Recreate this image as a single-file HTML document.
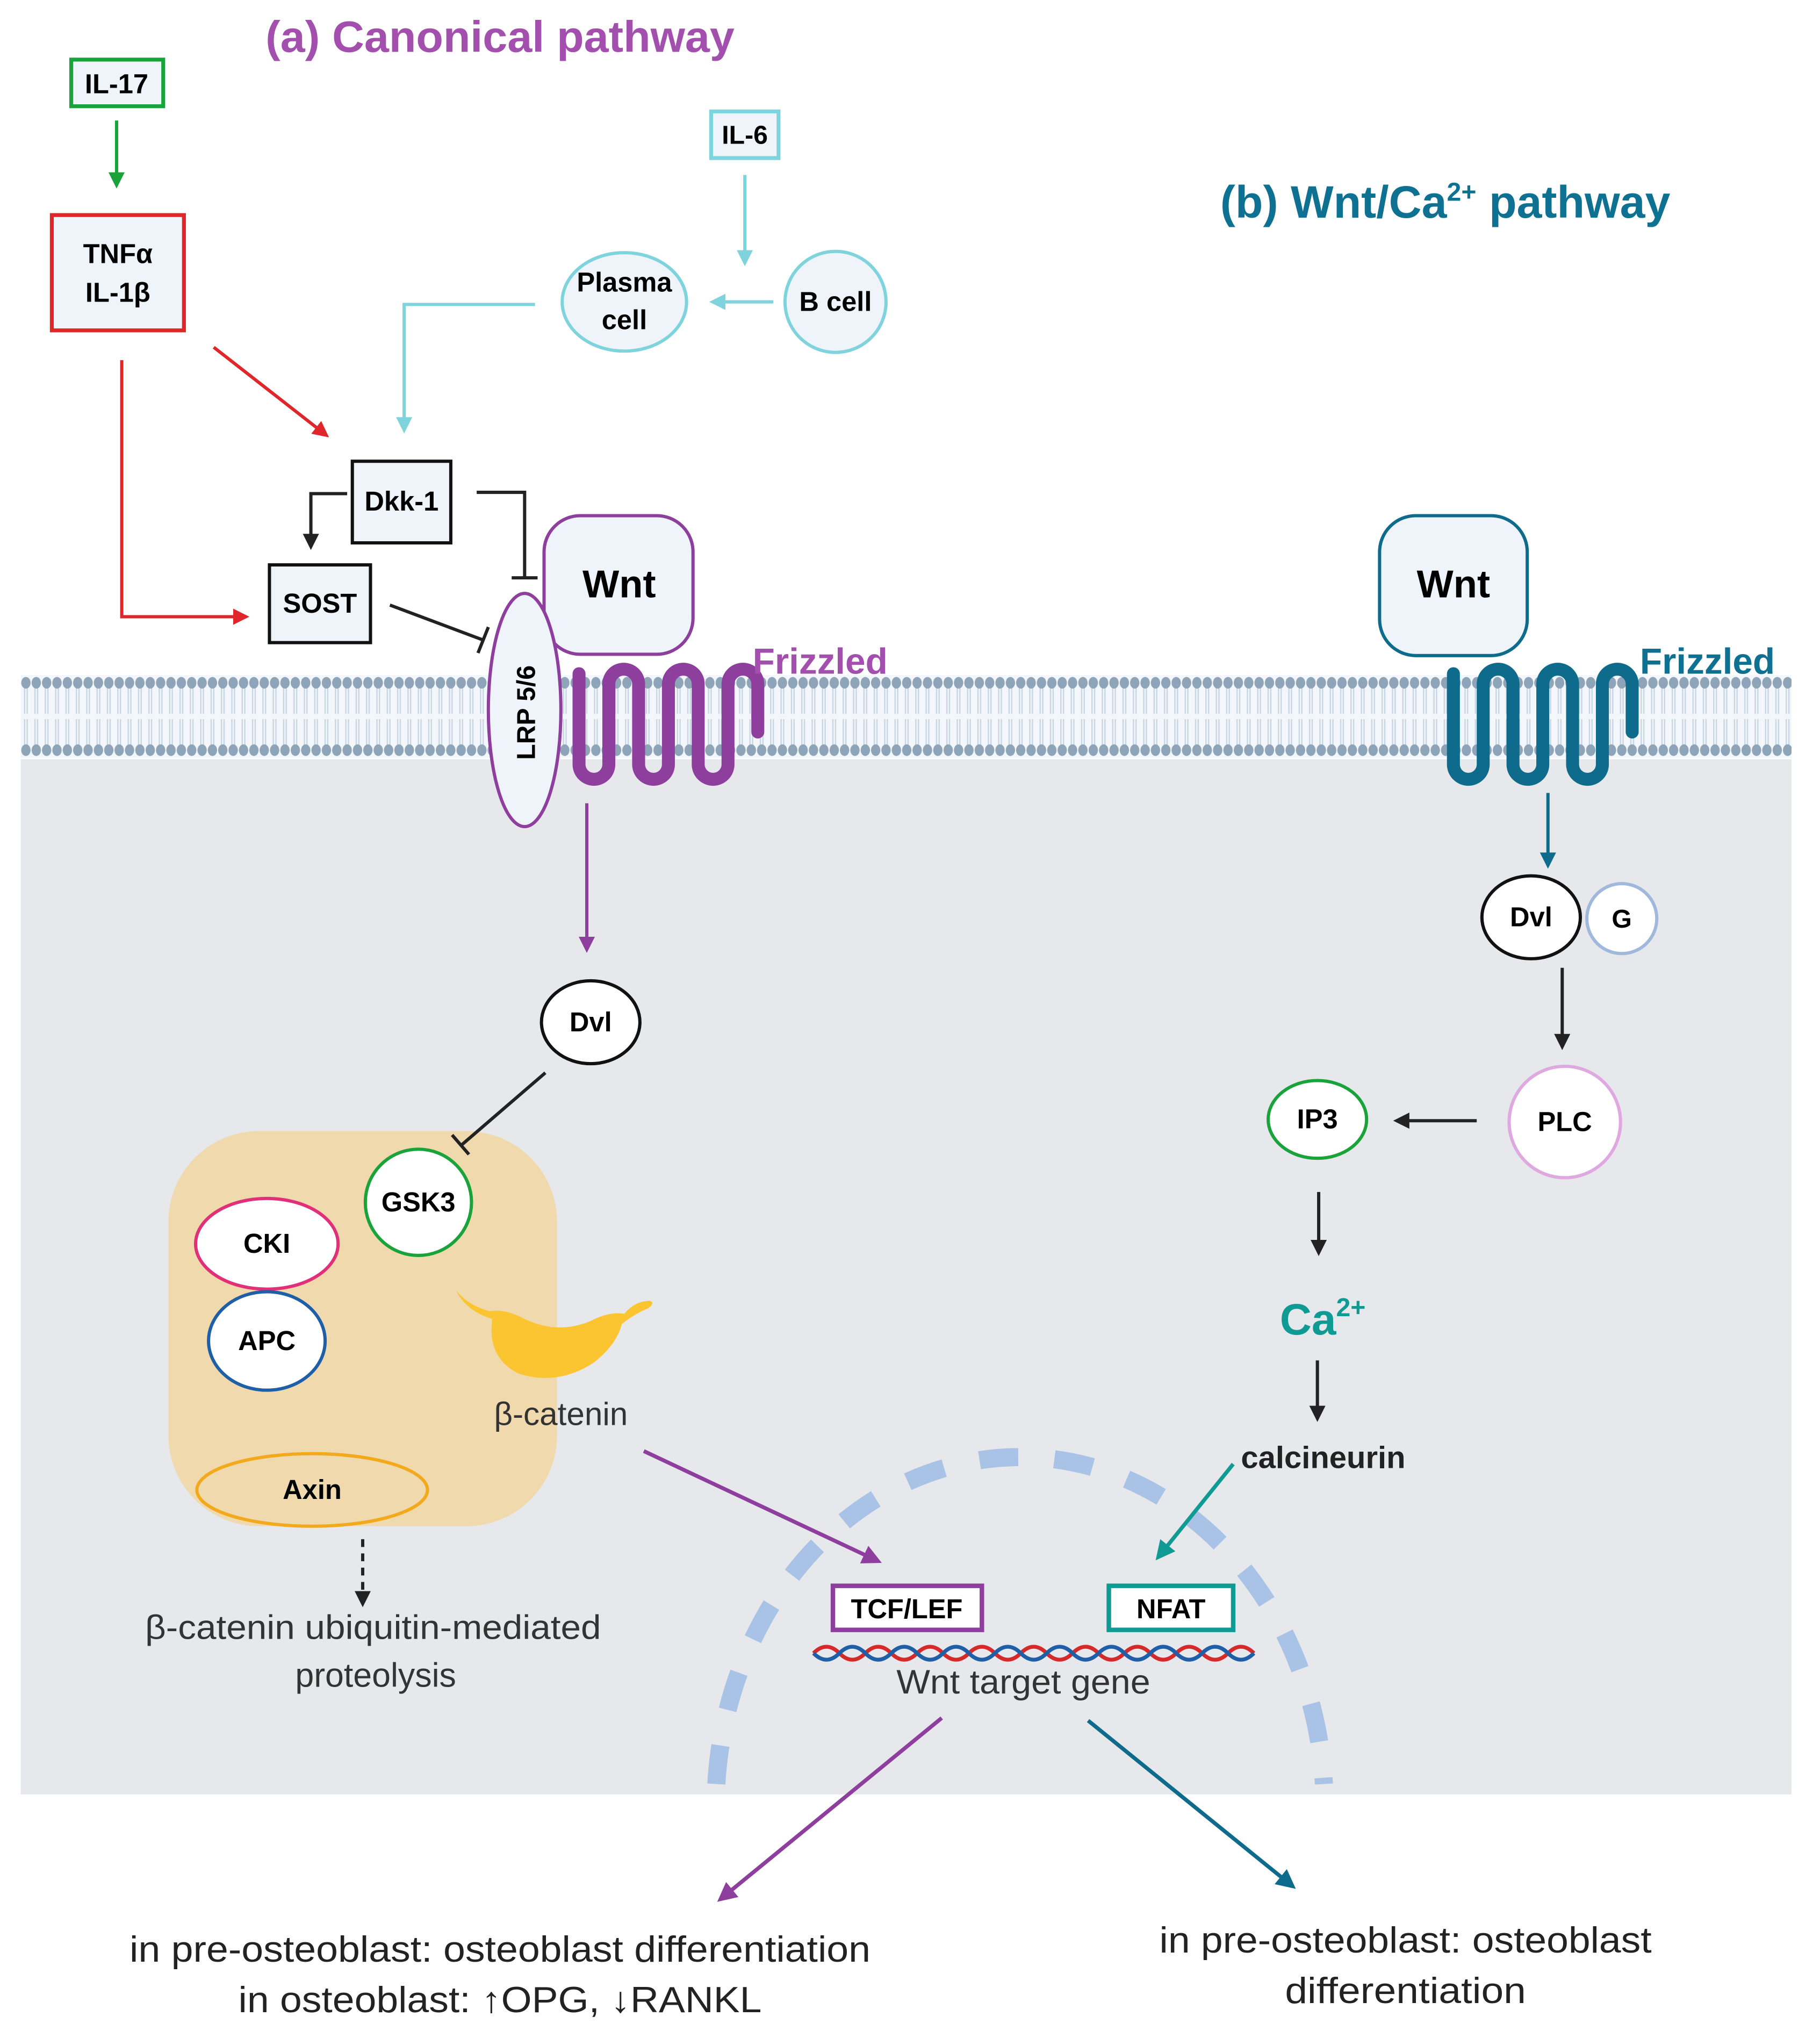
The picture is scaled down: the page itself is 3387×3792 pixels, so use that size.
<!DOCTYPE html>
<html><head><meta charset="utf-8"><style>
html,body{margin:0;padding:0;background:#fff;}
svg{display:block;}
text{font-family:"Liberation Sans",sans-serif;}
</style></head><body>
<svg width="3387" height="3792" viewBox="0 0 1405 1573" xmlns="http://www.w3.org/2000/svg">
<defs>
<pattern id="heads" x="0" y="521" width="8" height="64" patternUnits="userSpaceOnUse">
<rect x="0" y="0" width="8" height="64" fill="#f3f7fb"/>
<line x1="3" y1="6" x2="3" y2="30" stroke="#c8d6e4" stroke-width="1"/>
<line x1="5" y1="6" x2="5" y2="30" stroke="#c8d6e4" stroke-width="1"/>
<line x1="3" y1="34" x2="3" y2="58" stroke="#c8d6e4" stroke-width="1"/>
<line x1="5" y1="34" x2="5" y2="58" stroke="#c8d6e4" stroke-width="1"/>
<ellipse cx="4" cy="6" rx="3.6" ry="4.5" fill="#8ea4b8"/>
<ellipse cx="4" cy="58" rx="3.6" ry="4.5" fill="#8ea4b8"/>
</pattern>
<marker id="ak" viewBox="0 0 10 10" refX="8" refY="5" markerWidth="5" markerHeight="5" orient="auto"><path d="M0,0 L10,5 L0,10 z" fill="#222"/></marker>
<marker id="ag" viewBox="0 0 10 10" refX="8" refY="5" markerWidth="5" markerHeight="5" orient="auto"><path d="M0,0 L10,5 L0,10 z" fill="#1aa33a"/></marker>
<marker id="ar" viewBox="0 0 10 10" refX="8" refY="5" markerWidth="5" markerHeight="5" orient="auto"><path d="M0,0 L10,5 L0,10 z" fill="#e0262b"/></marker>
<marker id="ac" viewBox="0 0 10 10" refX="8" refY="5" markerWidth="5" markerHeight="5" orient="auto"><path d="M0,0 L10,5 L0,10 z" fill="#7fd3dc"/></marker>
<marker id="ap" viewBox="0 0 10 10" refX="8" refY="5" markerWidth="5" markerHeight="5" orient="auto"><path d="M0,0 L10,5 L0,10 z" fill="#8e3f9e"/></marker>
<marker id="ab" viewBox="0 0 10 10" refX="8" refY="5" markerWidth="5" markerHeight="5" orient="auto"><path d="M0,0 L10,5 L0,10 z" fill="#0e6b8c"/></marker>
<marker id="at" viewBox="0 0 10 10" refX="8" refY="5" markerWidth="5" markerHeight="5" orient="auto"><path d="M0,0 L10,5 L0,10 z" fill="#109a94"/></marker>
</defs>

<rect x="16" y="586" width="1367" height="799" fill="#e6e8ec"/>
<rect x="16" y="521" width="1367" height="64" fill="url(#heads)"/>

<text x="205" y="40" font-size="34" font-weight="bold" fill="#a24fae" textLength="362" lengthAdjust="spacingAndGlyphs">(a) Canonical pathway</text>
<text x="942" y="168" font-size="35" font-weight="bold" fill="#0f7191">(b) Wnt/Ca<tspan font-size="20" dy="-13">2+</tspan><tspan dy="13"> pathway</tspan></text>

<rect x="55" y="46" width="71" height="36" fill="#eef4fa" stroke="#1aa33a" stroke-width="3"/>
<text x="90" y="72" font-size="21" font-weight="bold" text-anchor="middle">IL-17</text>
<line x1="90" y1="93" x2="90" y2="143" stroke="#1aa33a" stroke-width="2.5" marker-end="url(#ag)"/>
<rect x="40" y="166" width="102" height="89" fill="#eef4fa" stroke="#e0262b" stroke-width="3"/>
<text x="91" y="203" font-size="21" font-weight="bold" text-anchor="middle">TNFα</text>
<text x="91" y="233" font-size="21" font-weight="bold" text-anchor="middle">IL-1β</text>
<line x1="165" y1="268" x2="252" y2="336" stroke="#e0262b" stroke-width="2.5" marker-end="url(#ar)"/>
<polyline points="94,278 94,476 190,476" fill="none" stroke="#e0262b" stroke-width="2.5" marker-end="url(#ar)"/>

<rect x="549" y="86" width="52" height="36" fill="#eef4fa" stroke="#7fd3dc" stroke-width="3"/>
<text x="575" y="111" font-size="20" font-weight="bold" text-anchor="middle">IL-6</text>
<line x1="575" y1="135" x2="575" y2="203" stroke="#7fd3dc" stroke-width="2.5" marker-end="url(#ac)"/>
<ellipse cx="482" cy="233" rx="48" ry="38" fill="#eef4fa" stroke="#7fd3dc" stroke-width="2.5"/>
<text x="482" y="225" font-size="21" font-weight="bold" text-anchor="middle">Plasma</text>
<text x="482" y="254" font-size="21" font-weight="bold" text-anchor="middle">cell</text>
<circle cx="645" cy="233" r="39" fill="#eef4fa" stroke="#7fd3dc" stroke-width="2.5"/>
<text x="645" y="240" font-size="21" font-weight="bold" text-anchor="middle">B cell</text>
<line x1="597" y1="233" x2="550" y2="233" stroke="#7fd3dc" stroke-width="2.5" marker-end="url(#ac)"/>
<polyline points="413,235 312,235 312,332" fill="none" stroke="#7fd3dc" stroke-width="2.5" marker-end="url(#ac)"/>

<rect x="272" y="356" width="76" height="63" fill="#eef4fa" stroke="#111" stroke-width="2.5"/>
<text x="310" y="394" font-size="21" font-weight="bold" text-anchor="middle">Dkk-1</text>
<polyline points="268,381 240,381 240,422" fill="none" stroke="#222" stroke-width="2.5" marker-end="url(#ak)"/>
<polyline points="368,380 405,380 405,446" fill="none" stroke="#222" stroke-width="2.5"/>
<line x1="395" y1="446" x2="415" y2="446" stroke="#222" stroke-width="2.5"/>
<rect x="208" y="436" width="78" height="60" fill="#eef4fa" stroke="#111" stroke-width="2.5"/>
<text x="247" y="473" font-size="21" font-weight="bold" text-anchor="middle">SOST</text>
<line x1="301" y1="467" x2="373" y2="494" stroke="#222" stroke-width="2.5"/>
<line x1="369" y1="504" x2="377" y2="484" stroke="#222" stroke-width="2.5"/>

<rect x="420" y="398" width="115" height="107" rx="28" fill="#eef4fa" stroke="#8e3f9e" stroke-width="2.5"/>
<text x="478" y="461" font-size="30" font-weight="bold" text-anchor="middle">Wnt</text>
<path d="M447,520 L447,590 A11.5,11.5 0 0 0 470,590 L470,528 A11.5,11.5 0 0 1 493,528 L493,590 A11.5,11.5 0 0 0 516,590 L516,528 A11.5,11.5 0 0 1 539,528 L539,590 A11.5,11.5 0 0 0 562,590 L562,528 A11.5,11.5 0 0 1 585,528 L585,565" fill="none" stroke="#8e3f9e" stroke-width="10" stroke-linecap="round"/>
<ellipse cx="405" cy="548" rx="28" ry="90" fill="#eef4fa" stroke="#8e3f9e" stroke-width="2.5"/>
<text x="0" y="0" font-size="20" font-weight="bold" text-anchor="middle" transform="translate(413,550) rotate(-90)">LRP 5/6</text>
<text x="581" y="520" font-size="28" font-weight="bold" fill="#a24fae">Frizzled</text>

<line x1="453" y1="620" x2="453" y2="733" stroke="#8e3f9e" stroke-width="2.5" marker-end="url(#ap)"/>
<ellipse cx="456" cy="789" rx="38" ry="32" fill="#fff" stroke="#111" stroke-width="2.5"/>
<text x="456" y="796" font-size="21" font-weight="bold" text-anchor="middle">Dvl</text>

<rect x="130" y="873" width="300" height="305" rx="70" fill="#f0d9ad"/>
<line x1="421" y1="828" x2="356" y2="884" stroke="#222" stroke-width="2.5"/>
<line x1="349" y1="876" x2="362" y2="891" stroke="#222" stroke-width="2.5"/>
<circle cx="323" cy="928" r="41" fill="#fff" stroke="#1aa33a" stroke-width="2.5"/>
<text x="323" y="935" font-size="21" font-weight="bold" text-anchor="middle">GSK3</text>
<ellipse cx="206" cy="960" rx="55" ry="35" fill="#fff" stroke="#e0307a" stroke-width="2.5"/>
<text x="206" y="967" font-size="21" font-weight="bold" text-anchor="middle">CKI</text>
<ellipse cx="206" cy="1035" rx="45" ry="38" fill="#fff" stroke="#1f5fa8" stroke-width="2.5"/>
<text x="206" y="1042" font-size="21" font-weight="bold" text-anchor="middle">APC</text>
<ellipse cx="241" cy="1150" rx="89" ry="28" fill="#f0d9ad" stroke="#f2a91c" stroke-width="2.5"/>
<text x="241" y="1157" font-size="21" font-weight="bold" text-anchor="middle">Axin</text>
<!-- beta-catenin blob -->
<path d="M352,996 Q360,1012 380,1018 Q376,1048 400,1060 Q430,1070 458,1052 Q476,1038 480,1022 Q490,1014 500,1010 Q506,1006 502,1004 Q490,1004 482,1014 Q470,1012 455,1020 Q430,1030 405,1018 Q390,1010 378,1012 Q362,1008 352,996 z" fill="#fbc531"/>
<text x="433" y="1100" font-size="25" text-anchor="middle" fill="#333">β-catenin</text>
<line x1="280" y1="1188" x2="280" y2="1238" stroke="#222" stroke-width="2.5" stroke-dasharray="6,5" marker-end="url(#ak)"/>
<text x="288" y="1265" font-size="26" text-anchor="middle" fill="#333" textLength="352" lengthAdjust="spacingAndGlyphs">β-catenin ubiquitin-mediated</text>
<text x="290" y="1302" font-size="26" text-anchor="middle" fill="#333">proteolysis</text>
<line x1="497" y1="1120" x2="678" y2="1205" stroke="#8e3f9e" stroke-width="3" marker-end="url(#ap)"/>

<path d="M553,1377 A235,270 0 0 1 1022,1377" fill="none" stroke="#a9c3e6" stroke-width="14" stroke-dasharray="30,28"/>
<rect x="643" y="1224" width="115" height="34" fill="#fff" stroke="#8e3f9e" stroke-width="3.5"/>
<text x="700" y="1249" font-size="21" font-weight="bold" text-anchor="middle">TCF/LEF</text>
<rect x="856" y="1224" width="96" height="34" fill="#fff" stroke="#109a94" stroke-width="3.5"/>
<text x="904" y="1249" font-size="21" font-weight="bold" text-anchor="middle">NFAT</text>
<path d="M628,1276 q10,-10 20,0 t20,0 t20,0 t20,0 t20,0 t20,0 t20,0 t20,0 t20,0 t20,0 t20,0 t20,0 t20,0 t20,0 t20,0 t20,0 t20,0" fill="none" stroke="#d62a2a" stroke-width="3"/>
<path d="M628,1276 q10,10 20,0 t20,0 t20,0 t20,0 t20,0 t20,0 t20,0 t20,0 t20,0 t20,0 t20,0 t20,0 t20,0 t20,0 t20,0 t20,0 t20,0" fill="none" stroke="#1f5fa8" stroke-width="3"/>
<text x="790" y="1307" font-size="26" text-anchor="middle" fill="#333" textLength="196" lengthAdjust="spacingAndGlyphs">Wnt target gene</text>
<line x1="727" y1="1326" x2="556" y2="1466" stroke="#8e3f9e" stroke-width="3" marker-end="url(#ap)"/>
<line x1="840" y1="1328" x2="998" y2="1456" stroke="#0e6b8c" stroke-width="3" marker-end="url(#ab)"/>
<text x="386" y="1514" font-size="28" text-anchor="middle" fill="#222" textLength="572" lengthAdjust="spacingAndGlyphs">in pre-osteoblast: osteoblast differentiation</text>
<text x="386" y="1553" font-size="28" text-anchor="middle" fill="#222" textLength="404" lengthAdjust="spacingAndGlyphs">in osteoblast: ↑OPG, ↓RANKL</text>
<text x="1085" y="1507" font-size="28" text-anchor="middle" fill="#222" textLength="380" lengthAdjust="spacingAndGlyphs">in pre-osteoblast: osteoblast</text>
<text x="1085" y="1546" font-size="28" text-anchor="middle" fill="#222" textLength="186" lengthAdjust="spacingAndGlyphs">differentiation</text>

<rect x="1065" y="398" width="114" height="108" rx="28" fill="#eef4fa" stroke="#0e6b8c" stroke-width="2.5"/>
<text x="1122" y="461" font-size="30" font-weight="bold" text-anchor="middle">Wnt</text>
<path d="M1122,520 L1122,590 A11.5,11.5 0 0 0 1145,590 L1145,528 A11.5,11.5 0 0 1 1168,528 L1168,590 A11.5,11.5 0 0 0 1191,590 L1191,528 A11.5,11.5 0 0 1 1214,528 L1214,590 A11.5,11.5 0 0 0 1237,590 L1237,528 A11.5,11.5 0 0 1 1260,528 L1260,565" fill="none" stroke="#0e6b8c" stroke-width="10" stroke-linecap="round"/>
<text x="1266" y="520" font-size="28" font-weight="bold" fill="#0f7191">Frizzled</text>
<line x1="1195" y1="612" x2="1195" y2="668" stroke="#0e6b8c" stroke-width="2.5" marker-end="url(#ab)"/>
<ellipse cx="1182" cy="708" rx="38" ry="32" fill="#fff" stroke="#111" stroke-width="2.5"/>
<text x="1182" y="715" font-size="21" font-weight="bold" text-anchor="middle">Dvl</text>
<circle cx="1252" cy="709" r="27" fill="#fff" stroke="#9fb8dc" stroke-width="2.5"/>
<text x="1252" y="716" font-size="20" font-weight="bold" text-anchor="middle">G</text>
<line x1="1206" y1="747" x2="1206" y2="808" stroke="#222" stroke-width="2.5" marker-end="url(#ak)"/>
<circle cx="1208" cy="866" r="43" fill="#fff" stroke="#e0a8e0" stroke-width="2.5"/>
<text x="1208" y="873" font-size="21" font-weight="bold" text-anchor="middle">PLC</text>
<line x1="1140" y1="865" x2="1078" y2="865" stroke="#222" stroke-width="2.5" marker-end="url(#ak)"/>
<ellipse cx="1017" cy="864" rx="38" ry="30" fill="#fff" stroke="#1aa33a" stroke-width="2.5"/>
<text x="1017" y="871" font-size="21" font-weight="bold" text-anchor="middle">IP3</text>
<line x1="1018" y1="920" x2="1018" y2="967" stroke="#222" stroke-width="2.5" marker-end="url(#ak)"/>
<text x="988" y="1030" font-size="34" font-weight="bold" fill="#109a94">Ca<tspan font-size="20" dy="-14">2+</tspan></text>
<line x1="1017" y1="1050" x2="1017" y2="1095" stroke="#222" stroke-width="2.5" marker-end="url(#ak)"/>
<text x="958" y="1133" font-size="24" font-weight="bold" fill="#222" textLength="127" lengthAdjust="spacingAndGlyphs">calcineurin</text>
<line x1="952" y1="1130" x2="894" y2="1202" stroke="#109a94" stroke-width="3" marker-end="url(#at)"/>
</svg>
</body></html>
